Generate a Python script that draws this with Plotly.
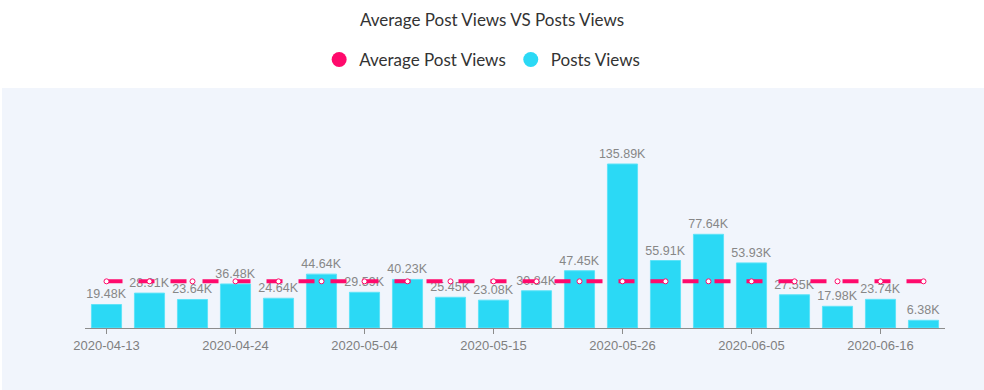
import plotly.graph_objects as go

dates = ["2020-04-13", "2020-04-17", "2020-04-20", "2020-04-24", "2020-04-27",
         "2020-05-01", "2020-05-04", "2020-05-08", "2020-05-11", "2020-05-15",
         "2020-05-18", "2020-05-22", "2020-05-26", "2020-05-29", "2020-06-01",
         "2020-06-05", "2020-06-08", "2020-06-12", "2020-06-16", "2020-06-19"]
post_views = [19480, 28910, 23640, 36480, 24640, 44640, 29590, 40230, 25450, 23080,
              30840, 47450, 135890, 55910, 77640, 53930, 27550, 17980, 23740, 6380]
tick_dates = ["2020-04-13", "2020-04-24", "2020-05-04", "2020-05-15",
              "2020-05-26", "2020-06-05", "2020-06-16"]

avg = sum(post_views) / len(post_views)
avg_views = [avg] * len(dates)
labels = [f"{v/1000:.2f}K" for v in post_views]

PINK = "#ff0a6c"
CYAN = "#2bd9f5"

fig = go.Figure()
fig.add_trace(go.Bar(
    x=dates, y=post_views, name="Posts Views", showlegend=False,
    marker=dict(color=CYAN, line=dict(color="#5fe3f8", width=1)),
    text=labels, textposition="outside", cliponaxis=False, constraintext="none",
    textfont=dict(family="Liberation Sans, Arial, sans-serif", size=12.5, color="#878787"),
))
fig.add_trace(go.Scatter(
    x=dates, y=avg_views, name="Average Post Views", showlegend=False,
    mode="lines+markers",
    line=dict(color=PINK, width=4, dash="16px,16px"),
    marker=dict(symbol="circle", size=5, color="white", line=dict(color=PINK, width=1)),
))
# legend entries with circular swatches
fig.add_trace(go.Scatter(
    x=[None], y=[None], name="Average Post Views", mode="markers",
    marker=dict(symbol="circle", size=15, color=PINK)))
fig.add_trace(go.Scatter(
    x=[None], y=[None], name="Posts Views", mode="markers",
    marker=dict(symbol="circle", size=15, color=CYAN)))

H = 390
top, base = 110, 328
ph = base - top

fig.add_shape(type="rect", xref="paper", yref="paper",
              x0=(2 - 85) / 860, x1=(984 - 85) / 860,
              y0=(base - 392) / ph, y1=(base - 88) / ph,
              fillcolor="#f1f5fc", line=dict(width=0), layer="below")

fig.update_layout(
    width=984, height=H,
    margin=dict(l=85, r=39, t=top, b=H - base),
    paper_bgcolor="white", plot_bgcolor="rgba(0,0,0,0)",
    bargap=0.3,
    title=dict(text="Average Post Views VS Posts Views", x=0.5, xref="container",
               y=1 - 20 / H, yref="container", xanchor="center", yanchor="middle",
               font=dict(family="Lato, Open Sans, sans-serif", size=17, color="#333333")),
    legend=dict(orientation="h", xref="container", yref="container",
                x=0.49, xanchor="center", y=1 - 60 / H, yanchor="middle",
                font=dict(family="Lato, Open Sans, sans-serif", size=17, color="#333333"),
                itemwidth=30, bgcolor="rgba(0,0,0,0)"),
    xaxis=dict(type="category", range=[-0.5, len(dates) - 0.5],
               tickmode="array", tickvals=tick_dates, ticktext=tick_dates,
               showline=True, linecolor="#8c8c8c", linewidth=1,
               ticks="outside", ticklen=5, tickcolor="#8c8c8c",
               showgrid=False, zeroline=False,
               tickfont=dict(family="Liberation Sans, Arial, sans-serif", size=13, color="#7f7f7f")),
    yaxis=dict(range=[0, ph / (164 / 135890)], visible=False, showgrid=False),
    showlegend=True,
)

fig.write_html("out.html", config={"displayModeBar": False},
               post_script="document.body.style.margin='0';document.body.style.padding='0';")
